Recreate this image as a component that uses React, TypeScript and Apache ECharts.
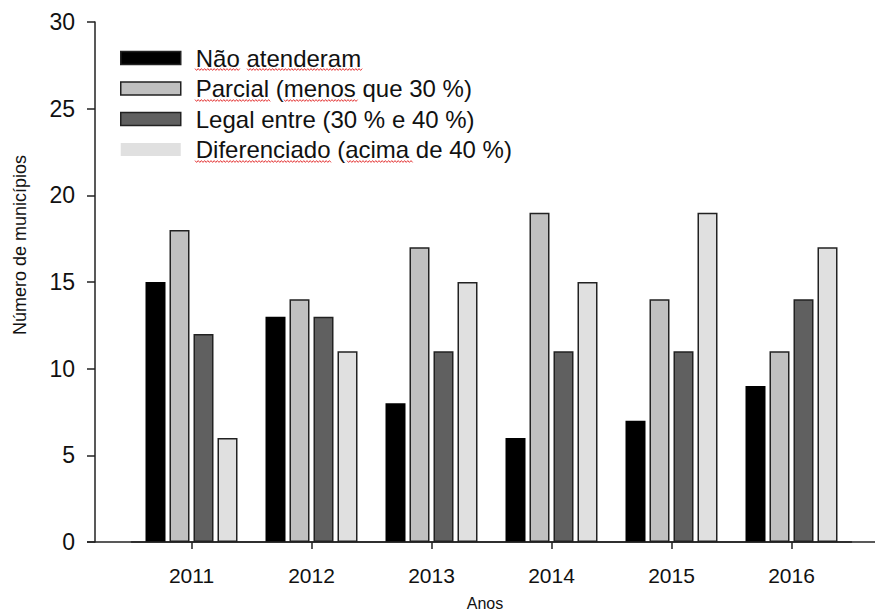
import React, { useEffect, useRef } from "react";
import * as echarts from "echarts";

const years = ["2011", "2012", "2013", "2014", "2015", "2016"];
const naoAtenderam = [15, 13, 8, 6, 7, 9];
const parcial = [18, 14, 17, 19, 14, 11];
const legal = [12, 13, 11, 11, 11, 14];
const diferenciado = [6, 11, 15, 15, 19, 17];
const seriesNames = [
  "Não atenderam",
  "Parcial (menos que 30 %)",
  "Legal entre (30 % e 40 %)",
  "Diferenciado (acima de 40 %)",
];
const colors = ["#000000", "#c0c0c0", "#606060", "#e0e0e0"];
// spell-check underline spans [x1, x2, y] (decoration of the reference legend)
const squiggles = [
  [195, 240, 69.5],
  [247, 363, 69.5],
  [195, 271, 100.5],
  [284, 358, 100.5],
  [195, 332, 161.5],
  [347, 413, 161.5],
];

const FONT = "Liberation Sans, Arial, sans-serif";

function wave(x1: number, x2: number, y: number) {
  const pts: number[][] = [];
  let up = true;
  for (let x = x1; x <= x2; x += 1.6) {
    pts.push([x, y + (up ? -0.9 : 0.9)]);
    up = !up;
  }
  return pts;
}

export default function App() {
  const ref = useRef<HTMLDivElement>(null);
  useEffect(() => {
    if (!ref.current) return;
    const chart = echarts.init(ref.current, null, { renderer: "svg" });
    const values = [naoAtenderam, parcial, legal, diferenciado];
    chart.setOption({
      animation: false,
      backgroundColor: "#ffffff",
      textStyle: { fontFamily: FONT },
      grid: {
        left: 131.5,
        right: 23.5,
        top: 22,
        bottom: 71,
        containLabel: false,
        outerBoundsMode: "none",
      },
      legend: {
        orient: "vertical",
        left: 120,
        top: 46,
        padding: 0,
        itemWidth: 60,
        itemHeight: 13,
        itemGap: 6.5,
        icon: "rect",
        textStyle: {
          fontFamily: FONT,
          fontSize: 24,
          color: "#111",
          lineHeight: 24,
          padding: [0, 0, 0, 10],
        },
        data: seriesNames.map((n, i) => ({
          name: n,
          itemStyle: i === 3 ? { borderWidth: 0 } : { borderColor: "#222", borderWidth: 1.5 },
        })),
      },
      xAxis: {
        type: "category",
        data: years,
        boundaryGap: true,
        axisLine: { show: true, lineStyle: { color: "#222", width: 1.5 } },
        axisTick: { show: true, alignWithLabel: true, length: 7, lineStyle: { color: "#222", width: 1.5 } },
        axisLabel: { fontSize: 21, color: "#111", margin: 23, fontFamily: FONT },
        splitLine: { show: false },
      },
      yAxis: {
        type: "value",
        min: 0,
        max: 30,
        interval: 5,
        offset: 36.5,
        axisLine: { show: true, lineStyle: { color: "#222", width: 1.5 } },
        axisTick: { show: true, length: 8, inside: false, lineStyle: { color: "#222", width: 1.5 } },
        axisLabel: { fontSize: 23, color: "#111", margin: 20, fontFamily: FONT },
        splitLine: { show: false },
      },
      graphic: [
        {
          type: "line",
          shape: { x1: 87, y1: 542, x2: 875, y2: 542 },
          style: { stroke: "#222", lineWidth: 1.5 },
          z: 10,
        },
        {
          type: "text",
          x: 20,
          y: 245,
          rotation: Math.PI / 2,
          style: {
            text: "Número de municípios",
            fontSize: 18,
            fontFamily: FONT,
            fill: "#111",
            align: "center",
            verticalAlign: "middle",
          },
        },
        {
          type: "text",
          x: 485,
          y: 603,
          style: {
            text: "Anos",
            fontSize: 16,
            fontFamily: FONT,
            fill: "#111",
            align: "center",
            verticalAlign: "middle",
          },
        },
        ...squiggles.map(([x1, x2, y]) => ({
          type: "polyline",
          shape: { points: wave(x1, x2, y) },
          style: { stroke: "#e02020", lineWidth: 0.9, fill: null },
          z: 20,
        })),
      ],
      series: seriesNames.map((n, i) => ({
        name: n,
        type: "bar",
        data: values[i],
        barWidth: 20,
        barGap: "20%",
        itemStyle: {
          color: colors[i],
          borderColor: i === 0 ? "#000" : "#222",
          borderWidth: 1.5,
        },
      })),
    });
    return () => chart.dispose();
  }, []);
  return <div ref={ref} style={{ width: 875, height: 613, position: "absolute", left: 0, top: 0 }} />;
}
